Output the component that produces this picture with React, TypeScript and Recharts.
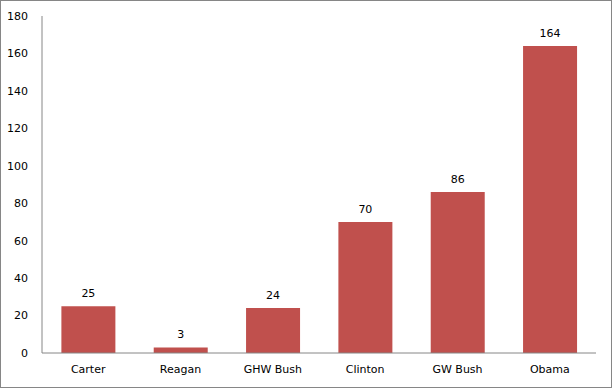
import React from 'react';
import { BarChart, Bar, XAxis, YAxis, LabelList } from 'recharts';

const presidents = ['Carter', 'Reagan', 'GHW Bush', 'Clinton', 'GW Bush', 'Obama'];
const counts = [25, 3, 24, 70, 86, 164];
const yTicks = [0, 20, 40, 60, 80, 100, 120, 140, 160, 180];

const data = presidents.map((name, i) => ({ name, value: counts[i] }));

const font = { fontFamily: 'DejaVu Sans', fontSize: 11, fill: '#000' };

const App: React.FC = () => {
  return (
    <div
      style={{
        position: 'absolute',
        left: 0,
        top: 0,
        width: 612,
        height: 388,
        boxSizing: 'border-box',
        border: '1px solid #868686',
        background: '#fff',
        overflow: 'hidden',
      }}
    >
      <div style={{ position: 'absolute', left: -1, top: -1 }}>
        <BarChart
          width={613}
          height={389}
          data={data}
          margin={{ top: 16, right: 17, left: 0, bottom: 0 }}
          barCategoryGap="21%"
        >
          <XAxis
            dataKey="name"
            height={36}
            stroke="#868686"
            tickLine={false}
            tickSize={0}
            tickMargin={12}
            tick={font}
            interval={0}
          />
          <YAxis
            width={42}
            domain={[0, 180]}
            ticks={yTicks}
            stroke="#868686"
            tickLine={false}
            tickSize={0}
            tickMargin={14}
            tick={font}
            interval={0}
          />
          <Bar dataKey="value" fill="#C0504D" isAnimationActive={false}>
            <LabelList dataKey="value" position="top" offset={9} style={font} />
          </Bar>
        </BarChart>
      </div>
    </div>
  );
};

export default App;
